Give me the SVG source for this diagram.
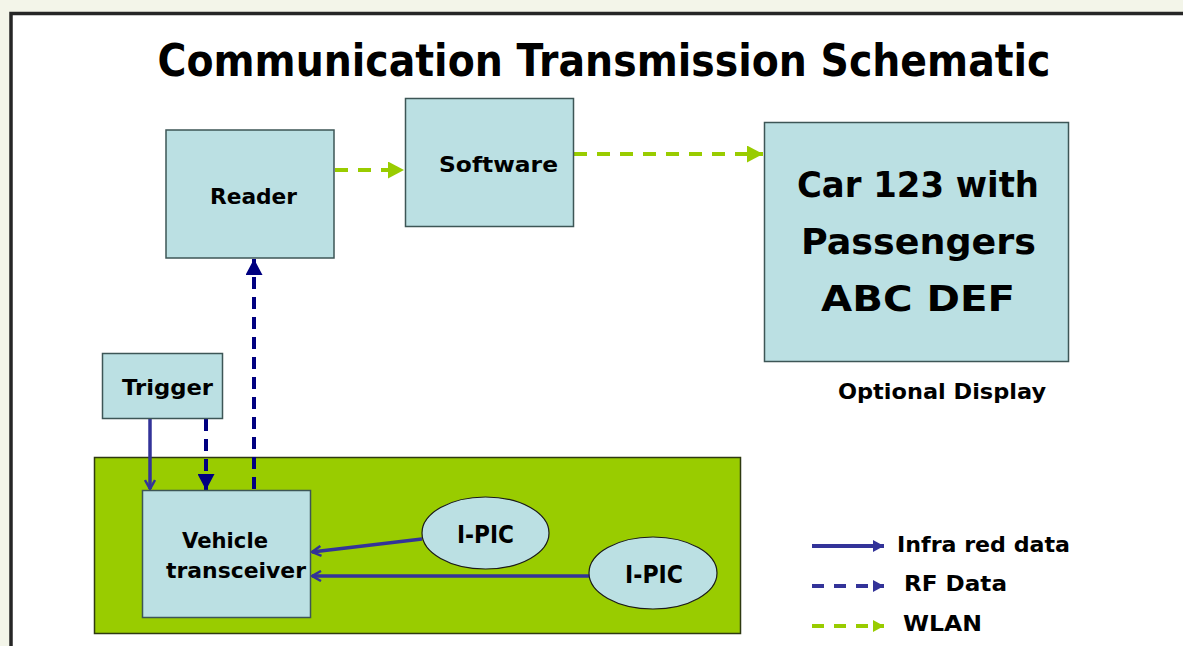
<svg xmlns="http://www.w3.org/2000/svg" width="1183" height="646" viewBox="0 0 1183 646">
<style>
.box{fill:#bbe0e3;stroke:#3d5656;stroke-width:1.5}
.t{font-family:"DejaVu Sans","Liberation Sans",sans-serif;font-weight:bold;fill:#000}
.ir{stroke:#333399;stroke-width:3.5;fill:none}
.rf{stroke:#000080;stroke-width:4;fill:none;stroke-dasharray:12 8}
.rfl{stroke:#333399;stroke-width:4;fill:none;stroke-dasharray:12 10}
.wl{stroke:#99cc00;stroke-width:4;fill:none;stroke-dasharray:13 10}
</style>
<defs>
<marker id="mWl" markerUnits="userSpaceOnUse" markerWidth="17" markerHeight="17" refX="16" refY="8.5" orient="auto"><path d="M0,0 L16,8.5 L0,17 Z" fill="#99cc00"/></marker>
<marker id="mRf" markerUnits="userSpaceOnUse" markerWidth="17" markerHeight="17" refX="16" refY="8.5" orient="auto"><path d="M0,0 L16,8.5 L0,17 Z" fill="#000080"/></marker>
<marker id="mIr" markerUnits="userSpaceOnUse" markerWidth="12" markerHeight="12" refX="10" refY="6" orient="auto"><path d="M1,1 L10,6 L1,11" fill="none" stroke="#333399" stroke-width="2.5"/></marker>
<marker id="mLir" markerUnits="userSpaceOnUse" markerWidth="12" markerHeight="12" refX="11" refY="6" orient="auto"><path d="M0,0 L11,6 L0,12 Z" fill="#333399"/></marker>
<marker id="mLwl" markerUnits="userSpaceOnUse" markerWidth="12" markerHeight="12" refX="11" refY="6" orient="auto"><path d="M0,0 L11,6 L0,12 Z" fill="#99cc00"/></marker>
</defs>
<rect x="0" y="0" width="1183" height="646" fill="#f3f5e9"/>
<rect x="11" y="13.5" width="1200" height="700" fill="#ffffff" stroke="#262626" stroke-width="3.5"/>
<text class="t" x="604" y="76" font-size="44" text-anchor="middle" textLength="893" lengthAdjust="spacingAndGlyphs">Communication Transmission Schematic</text>

<g id="green-area"><rect x="94.5" y="457.5" width="646" height="176" fill="#99cc00" stroke="#2e3a10" stroke-width="1.5"/></g>

<g id="connectors">
<line class="wl" x1="335" y1="170" x2="404" y2="170" marker-end="url(#mWl)"/>
<line class="wl" x1="574" y1="154" x2="763" y2="154" marker-end="url(#mWl)"/>
<line class="rf" x1="254" y1="489" x2="254" y2="259" marker-end="url(#mRf)"/>
<line class="rf" x1="206" y1="419" x2="206" y2="490" marker-end="url(#mRf)"/>
<line class="ir" x1="150" y1="419" x2="150" y2="489" marker-end="url(#mIr)"/>
<line class="ir" x1="422" y1="539" x2="312" y2="552" marker-end="url(#mIr)"/>
<line class="ir" x1="589" y1="576" x2="312" y2="576" marker-end="url(#mIr)"/>
</g>

<g id="reader"><rect class="box" x="166" y="130" width="168" height="128"/><text class="t" x="253.5" y="204" font-size="22" text-anchor="middle" textLength="87" lengthAdjust="spacingAndGlyphs">Reader</text></g>
<g id="software"><rect class="box" x="405.5" y="98.5" width="168" height="128"/><text class="t" x="498.5" y="172" font-size="22" text-anchor="middle" textLength="119" lengthAdjust="spacingAndGlyphs">Software</text></g>
<g id="display"><rect class="box" x="764.5" y="122.5" width="304" height="239"/>
<text class="t" x="918" y="197" font-size="36" text-anchor="middle" textLength="242" lengthAdjust="spacingAndGlyphs">Car 123 with</text>
<text class="t" x="918.5" y="254" font-size="36" text-anchor="middle" textLength="235" lengthAdjust="spacingAndGlyphs">Passengers</text>
<text class="t" x="918" y="311" font-size="36" text-anchor="middle" textLength="194" lengthAdjust="spacingAndGlyphs">ABC  DEF</text>
</g>
<text class="t" x="942" y="399" font-size="22" text-anchor="middle" textLength="208" lengthAdjust="spacingAndGlyphs">Optional Display</text>
<g id="trigger"><rect class="box" x="102.5" y="353.5" width="120" height="65"/><text class="t" x="167.5" y="395" font-size="22" text-anchor="middle" textLength="91" lengthAdjust="spacingAndGlyphs">Trigger</text></g>
<g id="transceiver"><rect class="box" x="142.5" y="490.5" width="168" height="127"/>
<text class="t" x="225" y="548" font-size="22" text-anchor="middle" textLength="86" lengthAdjust="spacingAndGlyphs">Vehicle</text>
<text class="t" x="236" y="578" font-size="22" text-anchor="middle" textLength="140" lengthAdjust="spacingAndGlyphs">transceiver</text>
</g>
<g id="ipic1"><ellipse cx="485.5" cy="533" rx="63.5" ry="36" fill="#bbe0e3" stroke="#1a1a1a" stroke-width="1.2"/><text class="t" x="485.5" y="543" font-size="24" text-anchor="middle" textLength="57" lengthAdjust="spacingAndGlyphs">I-PIC</text></g>
<g id="ipic2"><ellipse cx="653" cy="573" rx="64" ry="36" fill="#bbe0e3" stroke="#1a1a1a" stroke-width="1.2"/><text class="t" x="654" y="583" font-size="24" text-anchor="middle" textLength="58" lengthAdjust="spacingAndGlyphs">I-PIC</text></g>

<g id="legend">
<line x1="812" y1="546" x2="884" y2="546" stroke="#333399" stroke-width="4" marker-end="url(#mLir)"/>
<line class="rfl" x1="812" y1="586" x2="884" y2="586" marker-end="url(#mLir)"/>
<line class="wl" x1="812" y1="626" x2="884" y2="626" style="stroke-dasharray:12 10" marker-end="url(#mLwl)"/>
<text class="t" x="897" y="552" font-size="22" textLength="173" lengthAdjust="spacingAndGlyphs">Infra red data</text>
<text class="t" x="904" y="591" font-size="22" textLength="103" lengthAdjust="spacingAndGlyphs">RF Data</text>
<text class="t" x="903" y="631" font-size="22" textLength="79" lengthAdjust="spacingAndGlyphs">WLAN</text>
</g>
</svg>
